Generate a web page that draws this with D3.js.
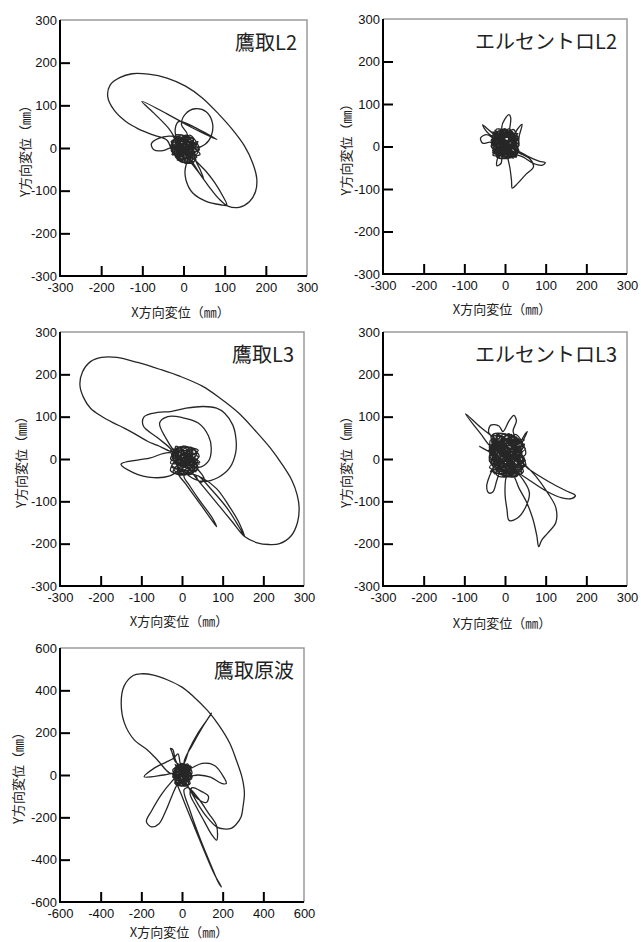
<!DOCTYPE html>
<html>
<head>
<meta charset="utf-8">
<script src="https://cdn.jsdelivr.net/npm/d3@7"></script>
<style>
body { margin: 0; background: #fff; }
</style>
</head>
<body>
<div id="chart"></div>
<script>
// orbit data [x, y] in mm
const takatoriL2 = [
  [0,0],[-25,25],[30,-28],[-10,-30],[15,30],[38,-5],[-30,5],[-5,30],[20,-35],[-20,-20],[35,15],[0,-25],[-15,28],[40,-15],
  [-28,-8],[10,25],[5,-36],[-25,15],[30,10],[-8,-15],[22,-28],[-20,30],[25,20],[-30,-5],[15,-32],
  [-5,22],[-35,28],[-62,22],[-78,10],[-72,-4],[-50,-6],[-25,2],[0,-5],
  [-12,22],[32,-22],[-22,-12],[12,28],[25,-33],[-28,10],[18,12],[-2,-34],[-18,25],[36,-2],[-15,-28],
  [10,30],[-5,55],[5,80],[28,92],[55,85],[70,60],[68,30],[52,8],[28,0],[5,10],
  [5,20],[28,-18],[-25,0],[8,30],[12,-22],[-20,18],[30,-30],[-5,5],[20,25],[-28,-15],[0,-10],
  [-20,22],[-36,46],[-70,80],[-101,109],[-40,80],[20,48],[81,20],[40,42],[-12,62],[-20,35],[-5,10],
  [15,-5],[-10,-20],[-30,5],[-15,25],[10,15],[28,-20],[5,-34],[-24,-14],
  [-40,18],[-72,30],[-110,45],[-140,62],[-168,88],[-184,120],[-178,148],[-155,165],[-125,174],[-85,173],[-40,164],[5,145],
  [45,118],[85,80],[120,42],[148,5],[168,-35],[178,-72],[175,-102],[160,-126],[135,-139],[108,-136],[85,-118],[60,-88],[35,-55],[15,-30],
  [-22,20],[35,-10],[-10,-25],[-8,30],[30,5],[-25,-10],[10,-35],[22,22],[-30,15],[5,-15],[-12,12],[28,-25],[0,28],[-18,-20],[25,0],
  [10,-30],[4,-50],[6,-75],[22,-105],[55,-125],[90,-133],[105,-134],[95,-112],[75,-80],[55,-55],[38,-38],
  [30,-30],[40,-50],[49,-72],[38,-58],[25,-38],
  [10,-20],[-15,0],[-5,18],[18,10],[10,-12],[-12,-8],[0,5]
];

const elcentroL2 = [
  [0,0],[-30,35],[30,-20],[-20,-25],[20,40],[33,0],[-33,5],[0,42],[10,-28],[-28,20],[28,25],[-15,-20],[5,35],[32,-15],
  [-30,-10],[15,38],[-5,-26],[-25,35],[34,10],[-10,-10],[20,-25],[-32,25],[25,30],[-30,-20],[8,-15],[-12,40],[30,-5],
  [-40,30],[-55,51],[-35,35],[-15,20],
  [-20,30],[25,-22],[-28,0],[18,28],[5,-28],[-30,18],[30,18],[-8,-22],[0,40],[28,-10],[-25,-15],[12,35],[15,-20],
  [-8,45],[0,65],[10,75],[14,68],[12,45],[8,25],
  [-33,12],[22,5],[-15,38],[10,-25],[-22,-8],[32,30],[-5,20],[20,-28],[-30,30],
  [-10,5],[-28,-8],[-10,-28],[20,-20],[32,0],[35,25],[42,52],[30,40],[15,15],
  [-20,15],[-45,28],[-60,20],[-55,8],[-35,10],[-20,0],
  [25,15],[-18,-25],[-10,35],[34,-12],[-32,-2],[5,40],[15,-10],[-25,22],[30,0],[-5,-28],
  [10,0],[35,-12],[60,-25],[85,-35],[99,-38],[92,-44],[70,-40],[45,-25],[20,-15],
  [-22,40],[22,28],[-28,-18],[10,10],[-15,5],[28,-25],[0,30],[-30,8],[18,-15],[-8,25],
  [5,-20],[12,-50],[16,-80],[18,-98],[30,-88],[52,-65],[70,-48],[62,-30],[35,-15],
  [10,0],[-15,-20],[-20,-45],[-10,-40],[-5,-10],
  [12,-26],[-26,28],[32,22],[-20,-10],[0,38],[25,-18],[-34,15],[15,30],[-8,-18],[28,8],[-18,35],[5,-10],
  [-28,28],[30,8],[-18,-22],[10,42],[26,-20],[-34,0],[18,35],[0,-25],[-22,15],[33,22],[-10,-15],[-5,38],[30,-12],
  [-30,-15],[12,25],[20,-5],[-25,38],[0,0]
];

const takatoriL3 = [
  [0,0],[-25,25],[40,-20],[-5,-35],[20,28],[42,5],[-28,-10],[10,30],[25,-35],[-20,-25],[38,15],[0,-20],[-15,22],[44,-8],
  [-25,5],[15,20],[12,-36],[-22,-30],[30,25],[-10,-5],[35,-30],[-28,20],[20,-10],
  [-30,15],[-80,2],[-150,-12],[-120,-32],[-70,-44],[-30,-40],[-5,-25],
  [20,-10],[35,15],[10,30],[-18,22],[-20,-5],
  [-25,20],[-60,50],[-95,78],[-93,100],[-60,110],[-28,112],[10,120],[53,124],[85,120],[105,108],[125,80],[133,45],[132,15],[118,-20],[90,-43],[55,-53],[25,-45],[0,-20],
  [-8,28],[38,-25],[-26,-18],[25,22],[10,-35],[-25,12],[40,5],[-5,-28],[-15,30],[30,-15],[-20,-5],[15,28],[28,-32],[-28,-28],[5,15],[42,-12],
  [-10,10],[-40,50],[-55,85],[-35,100],[0,98],[40,85],[65,55],[72,25],[65,-5],[40,-20],[10,-10],
  [0,15],[-28,18],[-60,32],[-85,42],[-117,60],[-142,73],[-170,86],[-198,101],[-225,120],[-242,145],[-251,175],[-245,205],[-225,230],
  [-198,240],[-160,240],[-109,228],[-55,212],[-4,195],[50,172],[93,144],[140,108],[182,65],[218,25],[247,-14],[270,-50],[283,-84],
  [288,-115],[284,-150],[268,-182],[240,-200],[214,-202],[185,-198],[154,-183],[125,-150],[95,-115],[65,-80],[35,-45],[10,-15],
  [-20,18],[32,-5],[0,-37],[-10,25],[40,20],[-25,-15],[18,-25],[5,30],[-28,0],[35,-20],[-12,-30],[25,10],
  [-10,-30],[10,-60],[40,-100],[70,-140],[85,-160],[75,-140],[45,-100],[20,-65],[5,-40],
  [20,-35],[50,-45],[85,-70],[115,-110],[140,-150],[154,-183],[140,-160],[110,-115],[75,-75],[40,-40],
  [35,-40],[45,-55],[55,-50],[48,-35],
  [28,-15],[6,-8],[-16,8],[-2,-14],[16,-4],[0,12],
  [20,-15],[0,10],[-15,-5],[5,-20],[25,5],[0,0]
];

const elcentroL3 = [
  [0,0],[-35,50],[45,-30],[-20,-38],[25,58],[50,10],[-38,0],[0,60],[30,-40],[-30,-25],[48,35],[-5,-30],[-25,45],[45,-15],
  [-36,15],[15,50],[10,-41],[-32,35],[40,25],[-15,-15],[30,-35],[-28,58],[35,45],[-38,-20],[20,-20],[-10,55],[50,-5],
  [-30,25],[-60,60],[-97,107],[-60,75],[-20,45],
  [-40,62],[-35,80],[-15,78],[-5,65],[10,90],[22,103],[28,90],[20,65],
  [35,40],[50,60],[55,65],[45,45],[30,20],
  [-25,40],[35,-30],[-35,-10],[20,55],[15,-38],[-38,30],[40,40],[-10,-30],[5,58],[45,-20],[-30,-30],[30,50],[25,-25],
  [-36,20],[40,10],[-20,58],[15,-35],[-28,-5],[48,45],[-5,30],[30,-40],[-35,45],
  [-40,20],[-63,30],[-40,18],[-15,5],
  [-25,-15],[-38,-40],[-45,-65],[-40,-80],[-30,-78],[-20,-50],[-10,-25],
  [35,20],[-25,-35],[-15,55],[51,-15],[-38,-5],[10,60],[20,-15],[-30,35],[45,5],[-5,-40],
  [20,5],[60,-25],[110,-55],[150,-75],[173,-86],[165,-93],[140,-92],[100,-75],[60,-50],[25,-25],
  [-30,58],[30,45],[-36,-30],[15,10],[-20,10],[40,-35],[0,45],[-38,15],[25,-20],[-10,38],
  [40,-5],[75,-40],[105,-80],[125,-115],[125,-150],[105,-175],[90,-192],[83,-207],[78,-180],[68,-140],[52,-100],[35,-70],[20,-40],
  [5,-40],[0,-80],[5,-120],[10,-145],[30,-140],[50,-115],[60,-80],[45,-50],[25,-30],
  [18,-38],[-32,45],[45,30],[-25,-15],[5,55],[35,-25],[-38,22],[25,45],[-10,-25],[42,15],[-22,55],[10,-10],
  [-30,40],[48,0],[-15,-35],[15,58],[38,-30],[-38,8],[28,52],[0,-38],[-25,25],[50,25],[-32,-15],[-5,50],[35,-10],
  [-20,-28],[20,35],[-35,55],[42,-25],[5,20],[0,0]
];

const takatoriOrig = [
  [0,0],[-35,50],[40,-40],[-20,-48],[25,52],[48,5],[-45,0],[0,55],[30,-50],[-35,-30],[45,35],[-5,-35],[-30,40],[45,-20],
  [-40,15],[15,48],[10,-50],[-35,35],[40,20],[-15,-15],[30,-45],
  [10,60],[50,140],[100,225],[145,292],[130,270],[80,200],[35,120],[5,50],
  [-30,60],[-50,110],[-57,126],[-45,120],[-35,80],[-20,40],
  [-28,45],[35,-30],[-40,-15],[20,50],[15,-45],[-45,25],[45,40],[-10,-40],[5,52],[48,-15],[-35,-40],[30,45],[25,-25],[-40,5],
  [40,30],[100,55],[160,45],[205,-10],[218,-40],[195,-40],[140,-10],[80,0],[30,-5],
  [-20,10],[-90,0],[-186,-8],[-140,30],[-80,60],[-40,80],[-20,100],[-10,60],
  [0,20],[-30,-10],
  [-50,-30],[-100,-90],[-150,-170],[-175,-220],[-150,-245],[-113,-230],[-80,-170],[-50,-100],[-20,-40],
  [38,15],[-30,-45],[-18,50],[50,-10],[-45,-10],[10,55],[20,-20],[-35,30],[45,0],[-5,-48],[-25,45],[30,35],
  [-20,20],[-57,8],[-121,71],[-170,118],[-235,166],[-283,245],[-299,340],[-285,420],[-240,470],[-202,478],[-140,472],[-73,450],
  [0,415],[56,371],[125,305],[186,229],[235,150],[267,71],[295,-10],[307,-87],[300,-150],[291,-197],[265,-235],[242,-252],
  [205,-255],[170,-245],[121,-197],[80,-140],[45,-80],[15,-30],
  [0,0],[30,10],[-20,30],
  [-30,-20],[0,-100],[50,-220],[110,-360],[160,-470],[194,-529],[180,-510],[140,-420],[85,-290],[40,-170],[10,-70],
  [30,-60],[80,-110],[130,-180],[170,-240],[170,-308],[145,-280],[110,-220],[70,-150],[40,-90],
  [50,-60],[100,-80],[130,-100],[120,-130],[80,-115],[40,-70],
  [10,-20],[-20,15],[15,30],[25,-15],[-10,-25],[0,0]
];

const titles = ["鷹取L2", "エルセントロL2", "鷹取L3", "エルセントロL3", "鷹取原波"];
const series = [takatoriL2, elcentroL2, takatoriL3, elcentroL3, takatoriOrig];
const limits = [300, 300, 300, 300, 600];
const labelTicks300 = [-300, -200, -100, 0, 100, 200, 300];
const innerTicks300 = [-200, -100, 0, 100, 200];
const labelTicks600 = [-600, -400, -200, 0, 200, 400, 600];
const innerTicks600 = [-400, -200, 0, 200, 400];
const xTitle = "X方向変位（㎜）";
const yTitle = "Y方向変位（㎜）";

// panel boxes on the page (yt / xt: offsets of the axis titles)
const boxes = [
  {left: 60, top: 20, w: 247, h: 256, yt: -36, xt: 35},
  {left: 383, top: 19, w: 244, h: 255, yt: -38, xt: 34},
  {left: 60, top: 332, w: 244, h: 254, yt: -40, xt: 34},
  {left: 383, top: 332, w: 244, h: 254, yt: -38, xt: 36},
  {left: 60, top: 648, w: 244, h: 254, yt: -43, xt: 29}
];

const jpFont = '"Noto Sans CJK JP", "Noto Sans CJK SC", sans-serif';
const numFont = '"Liberation Sans", Arial, sans-serif';

let svg = d3.select("#chart").append("svg")
  .attr("width", 641)
  .attr("height", 942)
  .style("display", "block");

series.forEach(function(data, i){
  let b = boxes[i];
  let lim = limits[i];
  let labels = lim === 600 ? labelTicks600 : labelTicks300;
  let inner = lim === 600 ? innerTicks600 : innerTicks300;

  let g = svg.append("g").attr("transform", `translate(${b.left},${b.top})`);
  let x = d3.scaleLinear().domain([-lim, lim]).range([0, b.w]);
  let y = d3.scaleLinear().domain([-lim, lim]).range([b.h, 0]);

  // the orbit
  let line = d3.line()
    .x(d => x(d[0]))
    .y(d => y(d[1]))
    .curve(d3.curveCatmullRom.alpha(0.5));
  g.append("path")
    .datum(data)
    .attr("d", line)
    .attr("fill", "none")
    .attr("stroke", "#262626")
    .attr("stroke-width", 1.3)
    .attr("stroke-linejoin", "round");

  // top/right frame is grey
  g.append("path")
    .attr("d", `M0,0H${b.w}V${b.h}`)
    .attr("fill", "none")
    .attr("stroke", "#9a9a9a")
    .attr("stroke-width", 1.5);

  // inner tick marks
  g.append("g")
    .attr("transform", `translate(0,${b.h})`)
    .call(d3.axisBottom(x).tickValues(inner).tickSize(-10).tickFormat(""))
    .call(a => a.select(".domain").remove())
    .selectAll("line").attr("stroke", "#000").attr("stroke-width", 2);
  g.append("g")
    .call(d3.axisLeft(y).tickValues(inner).tickSize(-10).tickFormat(""))
    .call(a => a.select(".domain").remove())
    .selectAll("line").attr("stroke", "#000").attr("stroke-width", 2);

  // tick labels
  let xl = g.append("g")
    .attr("transform", `translate(0,${b.h})`)
    .call(d3.axisBottom(x).tickValues(labels).tickSize(0).tickPadding(7).tickFormat(d => String(d)));
  xl.select(".domain").remove();
  xl.attr("font-family", numFont).attr("font-size", 13);
  xl.selectAll("text").attr("fill", "#111");

  let yl = g.append("g")
    .call(d3.axisLeft(y).tickValues(labels).tickSize(0).tickPadding(3).tickFormat(d => String(d)));
  yl.select(".domain").remove();
  yl.attr("font-family", numFont).attr("font-size", 13);
  yl.selectAll("text").attr("fill", "#111");

  // left / bottom axis lines
  g.append("path")
    .attr("d", `M0,0V${b.h}H${b.w}`)
    .attr("fill", "none")
    .attr("stroke", "#000")
    .attr("stroke-width", 2);

  // panel title
  g.append("text")
    .attr("x", b.w - 10)
    .attr("y", 30)
    .attr("text-anchor", "end")
    .attr("font-family", jpFont)
    .attr("font-size", 20)
    .attr("fill", "#222")
    .text(titles[i]);

  // axis titles
  g.append("text")
    .attr("x", b.w / 2 - 3)
    .attr("y", b.h + b.xt)
    .attr("dominant-baseline", "central")
    .attr("text-anchor", "middle")
    .attr("font-family", jpFont)
    .attr("font-size", 13)
    .attr("fill", "#222")
    .text(xTitle);

  g.append("text")
    .attr("transform", `translate(${b.yt},${b.h / 2}) rotate(-90)`)
    .attr("dominant-baseline", "central")
    .attr("text-anchor", "middle")
    .attr("font-family", jpFont)
    .attr("font-size", 13)
    .attr("fill", "#222")
    .text(yTitle);
});
</script>
</body>
</html>
